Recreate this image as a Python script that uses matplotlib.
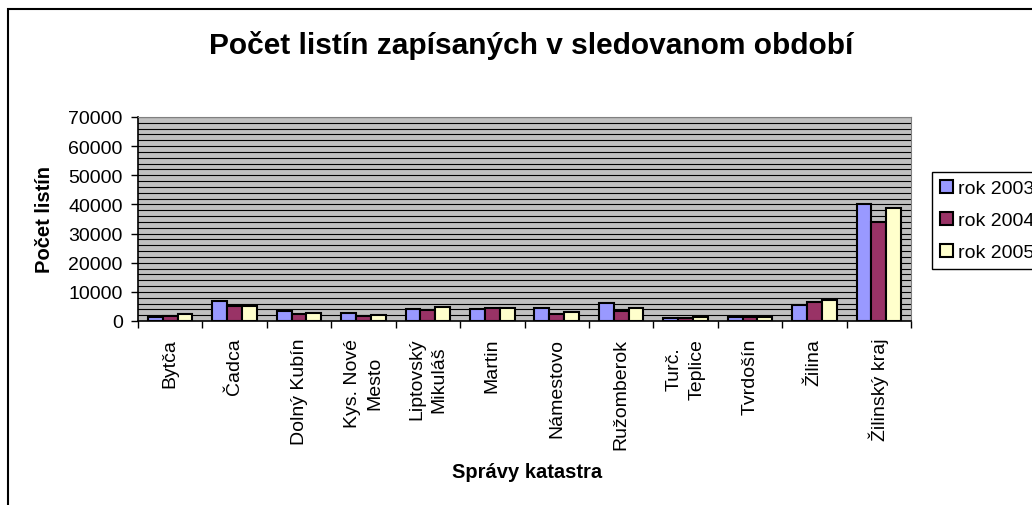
import numpy as np
import matplotlib
matplotlib.use('Agg')
import matplotlib.pyplot as plt
from matplotlib.ticker import MultipleLocator, FixedLocator
from matplotlib.patches import Rectangle

plt.rcParams['font.family'] = ['Liberation Sans', 'DejaVu Sans']

# Data
spravy = ['Bytča', 'Čadca', 'Dolný Kubín', 'Kys. Nové\nMesto', 'Liptovský\nMikuláš',
          'Martin', 'Námestovo', 'Ružomberok', 'Turč.\nTeplice', 'Tvrdošín',
          'Žilina', 'Žilinský kraj']
rok_2003 = [1400, 6750, 3300, 2600, 4000, 4100, 4300, 6200, 1100, 1400, 5400, 40000]
rok_2004 = [1600, 5100, 2300, 1600, 3700, 4500, 2500, 3400, 1000, 1300, 6400, 33900]
rok_2005 = [2300, 5100, 2600, 2100, 4800, 4600, 3200, 4600, 1400, 1500, 7300, 38800]
roky = ['rok 2003', 'rok 2004', 'rok 2005']
farby = ['#9999FF', '#993366', '#FFFFCC']

W, H = 1032, 506
fig = plt.figure(figsize=(W/100, H/100), dpi=100)
ax = fig.add_axes([138/W, 1-322/H, (911-138)/W, (322-118)/H])
ax.set_facecolor('#C0C0C0')

x = np.arange(len(spravy))
w = 0.23
for i, (vals, lab, c) in enumerate(zip([rok_2003, rok_2004, rok_2005], roky, farby)):
    ax.bar(x + (i-1)*w, vals, width=w, color=c, edgecolor='black', linewidth=1.5,
           label=lab, zorder=3)

ax.set_xlim(-0.5, len(spravy)-0.5)
ax.set_ylim(0, 70000)

# y axis
ax.yaxis.set_major_locator(MultipleLocator(10000))
ax.yaxis.set_minor_locator(MultipleLocator(2000))
ax.grid(which='both', axis='y', color='black', linewidth=0.8, zorder=1)
ax.set_axisbelow(True)
ax.tick_params(axis='y', which='major', length=5, width=1, labelsize=14, pad=6)
ax.tick_params(axis='y', which='minor', length=0)

# x axis
ax.set_xticks(x)
ax.set_xticklabels(spravy, rotation=90, ha='center', va='top', multialignment='center',
                   linespacing=1.4)
ax.xaxis.set_minor_locator(FixedLocator(np.arange(-0.5, len(spravy), 1)))
ax.tick_params(axis='x', which='major', length=0, labelsize=14, pad=12)
ax.tick_params(axis='x', which='minor', length=5, width=1)

for s in ['top', 'right']:
    ax.spines[s].set_color('#808080')
for s in ['left', 'bottom']:
    ax.spines[s].set_color('black')
    ax.spines[s].set_linewidth(1.2)

fig.text(531/W, 1-45/H, 'Počet listín zapísaných v sledovanom období',
         ha='center', va='center', fontsize=21.5, fontweight='bold')
fig.text(45/W, 1-220/H, 'Počet listín', rotation=90, ha='center', va='center',
         fontsize=14.5, fontweight='bold')
fig.text(527/W, 1-473/H, 'Správy katastra', ha='center', va='center',
         fontsize=14.5, fontweight='bold')

leg = fig.legend(loc='upper left', bbox_to_anchor=(932/W, 1-173/H), fontsize=14,
                 handlelength=0.67, handleheight=0.67, handletextpad=0.26,
                 borderpad=0.4, labelspacing=0.75, fancybox=False, framealpha=1,
                 edgecolor='black', borderaxespad=0)
leg.get_frame().set_linewidth(1)

# chart border
fig.patches.append(Rectangle((8/W, -0.1), 1.2, 1.1 - 10/H, transform=fig.transFigure,
                             fill=False, edgecolor='black', linewidth=1.5))

fig.savefig('out.png', dpi=100)
